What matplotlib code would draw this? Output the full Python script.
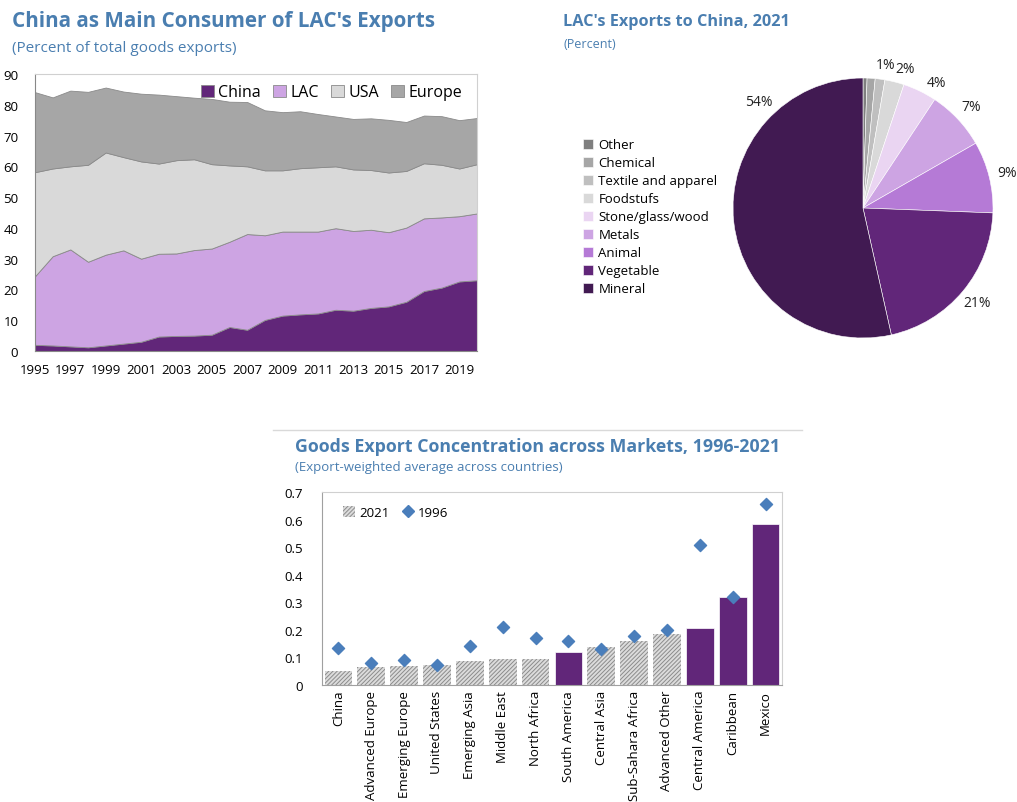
import numpy as np
import matplotlib
matplotlib.use('Agg')
from matplotlib import pyplot as plt
from matplotlib.patches import Patch
from matplotlib.lines import Line2D

plt.rcParams['font.family'] = ['Open Sans', 'DejaVu Sans']

# ---- data: shares of LAC goods exports by destination (percent) ----
years = list(range(1995, 2021))
china = [2.0, 1.8, 1.5, 1.2, 1.8, 2.4, 3.0, 4.7, 4.9, 5.0, 5.3, 7.8, 6.9,
         10.1, 11.5, 11.9, 12.2, 13.4, 13.1, 14.0, 14.5, 16.0, 19.5, 20.6,
         22.6, 23.0]
lac = [22.3, 29.0, 31.5, 27.8, 29.5, 30.3, 27.0, 26.9, 26.8, 27.8, 28.0,
       27.7, 31.1, 27.5, 27.3, 26.9, 26.6, 26.5, 25.9, 25.4, 24.1, 24.1,
       23.6, 22.8, 21.2, 21.7]
usa = [33.8, 28.5, 27.0, 31.5, 33.2, 30.3, 31.6, 29.3, 30.3, 29.5, 27.4,
       24.8, 22.0, 21.1, 19.9, 20.6, 20.9, 20.1, 20.0, 19.4, 19.4, 18.4,
       17.9, 17.1, 15.5, 16.0]
europe = [26.0, 23.1, 24.6, 23.7, 21.1, 21.3, 22.0, 22.4, 20.8, 20.0, 21.2,
          20.7, 20.9, 19.5, 18.9, 18.5, 17.3, 16.2, 16.4, 16.8, 17.1, 15.9,
          15.5, 15.8, 15.7, 15.0]
area_names = ['China', 'LAC', 'USA', 'Europe']

# ---- data: LAC exports to China by product, 2021 (percent) ----
products = ['Other', 'Chemical', 'Textile and apparel', 'Foodstufs',
            'Stone/glass/wood', 'Metals', 'Animal', 'Vegetable', 'Mineral']
product_share = [0.5, 1.0, 1.2, 2.4, 4.2, 7.4, 8.9, 20.9, 53.5]
product_labels = ['', '', '1%', '2%', '4%', '7%', '9%', '21%', '54%']

# ---- data: export concentration ----
markets = ['China', 'Advanced Europe', 'Emerging Europe', 'United States',
           'Emerging Asia', 'Middle East', 'North Africa', 'South America',
           'Central Asia', 'Sub-Sahara Africa', 'Advanced Other',
           'Central America', 'Caribbean', 'Mexico']
conc_2021 = [0.050, 0.066, 0.068, 0.072, 0.086, 0.093, 0.093, 0.119, 0.137,
             0.159, 0.184, 0.206, 0.318, 0.584]
conc_1996 = [0.133, 0.078, 0.089, 0.072, 0.140, 0.211, 0.169, 0.160, 0.129,
             0.177, 0.198, 0.507, 0.318, 0.657]
lac_markets = ['South America', 'Central America', 'Caribbean', 'Mexico']

TITLE = '#4a7eb0'
PURPLE = '#612679'
W, H = 1017, 803


def box(x0, y0, x1, y1):
    # pixel box (top-left origin) -> figure fraction rect
    return [x0 / W, 1 - y1 / H, (x1 - x0) / W, (y1 - y0) / H]


fig = plt.figure(figsize=(W / 100, H / 100), dpi=100)

# ================= area chart =================
fig.text(12 / W, 1 - 22 / H, "China as Main Consumer of LAC's Exports",
         fontsize=14.9, fontweight='bold', color=TITLE, va='center')
fig.text(12 / W, 1 - 48 / H, '(Percent of total goods exports)',
         fontsize=11, color=TITLE, va='center')

ax1 = fig.add_axes(box(35, 75, 477, 352))
area_colors = [PURPLE, '#cda4e3', '#d9d9d9', '#a6a6a6']
polys = ax1.stackplot(years, china, lac, usa, europe, colors=area_colors,
                      edgecolor='#8a8a8a', linewidth=0.6)
ax1.set_xlim(1995, 2020)
ax1.set_ylim(0, 90)
ax1.set_yticks(range(0, 91, 10))
ax1.set_xticks(range(1995, 2020, 2))
ax1.tick_params(labelsize=9.5, length=0)
ax1.tick_params(axis='x', pad=9)
ax1.tick_params(axis='y', pad=12)
for s in ax1.spines.values():
    s.set_color('#d0d0d0')
    s.set_linewidth(0.8)
ax1.spines['left'].set_color('#888888')
ax1.spines['bottom'].set_color('#888888')
ax1.legend(polys, area_names, loc='upper right', ncol=4, frameon=False,
           fontsize=11.5, handlelength=0.8, handleheight=0.8,
           handletextpad=0.3, columnspacing=0.75,
           bbox_to_anchor=(1.0, 1.015))

# ================= pie chart =================
fig.text(563 / W, 1 - 22 / H, "LAC's Exports to China, 2021",
         fontsize=11.7, fontweight='bold', color=TITLE, va='center')
fig.text(563 / W, 1 - 44 / H, '(Percent)', fontsize=9, color=TITLE,
         va='center')

ax2 = fig.add_axes(box(733, 79, 993, 339))
pie_colors = ['#7f7f7f', '#a6a6a6', '#bfbfbf', '#d9d9d9', '#ead5f2',
              '#cda4e3', '#b57ad6', PURPLE, '#411a52']
wedges, _ = ax2.pie(product_share, colors=pie_colors, startangle=90,
                    counterclock=False, radius=1.0,
                    wedgeprops=dict(linewidth=0.4, edgecolor='white'))
ax2.set_xlim(-1, 1)
ax2.set_ylim(-1, 1)
ax2.set_aspect('equal')
for w, share, lab in zip(wedges, product_share, product_labels):
    if not lab:
        continue
    ang = np.deg2rad((w.theta1 + w.theta2) / 2)
    r = 1.14
    if share < 5:
        # thin slices: labels pushed toward the trailing edge
        ang = np.deg2rad(w.theta1 + 0.2 * (w.theta2 - w.theta1))
        r = 1.12
    if lab == '54%':
        # best-fit placement for the large slice (upper left)
        ang = np.deg2rad(w.theta1 + 0.23 * (w.theta2 - w.theta1))
        r = 1.15
    ax2.text(r * np.cos(ang), r * np.sin(ang), lab, ha='center',
             va='center', fontsize=10, color='#222222', clip_on=False)

fig.legend(wedges, products, loc='upper left',
           bbox_to_anchor=(578 / W, 1 - 134 / H), frameon=False,
           fontsize=9.5, handlelength=0.75, handleheight=0.75,
           handletextpad=0.4, labelspacing=0.38, borderaxespad=0)

# ================= bar chart =================
fig.add_artist(Line2D([273 / W, 802 / W], [1 - 431 / H, 1 - 431 / H],
                      color='#d9d9d9', linewidth=1))
fig.text(295 / W, 1 - 447 / H,
         'Goods Export Concentration across Markets, 1996-2021',
         fontsize=12.8, fontweight='bold', color=TITLE, va='center')
fig.text(295 / W, 1 - 468 / H, '(Export-weighted average across countries)',
         fontsize=9.5, color=TITLE, va='center')

plt.rcParams['hatch.linewidth'] = 0.7
HATCH = '////////'
ax3 = fig.add_axes(box(322, 493, 782, 686))
x = np.arange(len(markets))
for i, (m, v) in enumerate(zip(markets, conc_2021)):
    if m in lac_markets:
        ax3.bar(i, v, width=0.84, color=PURPLE, edgecolor='white',
                linewidth=0.5)
    else:
        ax3.bar(i, v, width=0.84, color='#dcdcdc', edgecolor='#8c8c8c',
                hatch=HATCH, linewidth=0)
ax3.scatter(x, conc_1996, marker='D', s=38, color='#4a7ebb', zorder=3)
ax3.set_xlim(-0.5, len(markets) - 0.5)
ax3.set_ylim(0, 0.7)
ax3.set_yticks(np.arange(0, 0.71, 0.1))
ax3.set_yticklabels(['0', '0.1', '0.2', '0.3', '0.4', '0.5', '0.6', '0.7'])
ax3.set_xticks(x)
ax3.set_xticklabels(markets, rotation=90)
ax3.tick_params(labelsize=9.5, length=0)
ax3.tick_params(axis='y', pad=14)
for s in ax3.spines.values():
    s.set_color('#d0d0d0')
    s.set_linewidth(0.8)
ax3.spines['left'].set_color('#a0a0a0')
ax3.spines['bottom'].set_color('#a0a0a0')

leg_handles = [Patch(facecolor='#dcdcdc', edgecolor='#8c8c8c',
                     hatch=HATCH, linewidth=0),
               Line2D([], [], marker='D', linestyle='none',
                      color='#4a7ebb', markersize=6)]
ax3.legend(leg_handles, ['2021', '1996'], loc='upper left', ncol=2,
           frameon=False, fontsize=9.5, handlelength=0.9,
           handleheight=0.9, handletextpad=0.3, columnspacing=1.0,
           bbox_to_anchor=(0.02, 0.99))

fig.savefig('out.png', dpi=100)
